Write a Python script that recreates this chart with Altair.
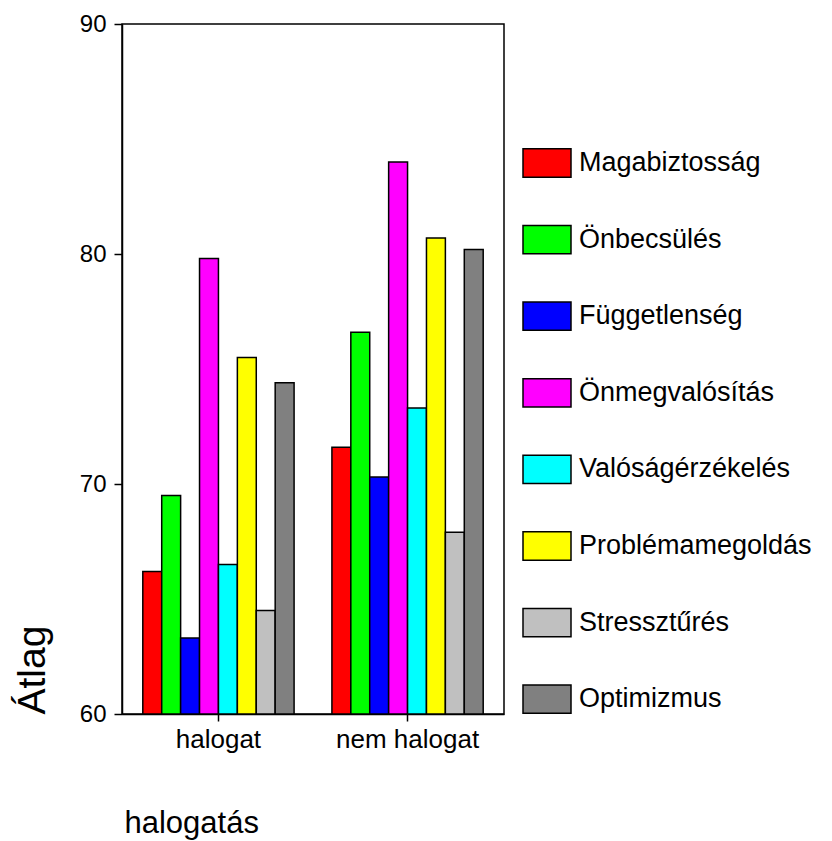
import altair as alt
import pandas as pd

groups = ["halogat", "nem halogat"]
scales = ["Magabiztosság", "Önbecsülés", "Függetlenség", "Önmegvalósítás",
          "Valóságérzékelés", "Problémamegoldás", "Stressztűrés", "Optimizmus"]
halogat_vals = [66.2, 69.5, 63.3, 79.8, 66.5, 75.5, 64.5, 74.4]
nem_halogat_vals = [71.6, 76.6, 70.3, 84.0, 73.3, 80.7, 67.9, 80.2]
colors = ["#FF0000", "#00FF00", "#0000FF", "#FF00FF",
          "#00FFFF", "#FFFF00", "#C0C0C0", "#808080"]
y_ticks = [60, 70, 80, 90]

rows = []
for g, vals in zip(groups, [halogat_vals, nem_halogat_vals]):
    for s, v in zip(scales, vals):
        rows.append({"csoport": g, "skala": s, "atlag": v})
df = pd.DataFrame(rows)

FONT = "Liberation Sans"
rect_path = "M-1,-0.59L1,-0.59L1,0.59L-1,0.59Z"

chart = alt.Chart(df).mark_bar(stroke="black", strokeWidth=1.5).encode(
    x=alt.X("csoport:N", sort=groups,
            scale=alt.Scale(paddingInner=0.2, paddingOuter=0.11),
            axis=alt.Axis(title="halogatás", labelAngle=0, labelFontSize=26,
                          labelPadding=5, tickSize=7, titleFontSize=31,
                          titleFontWeight="normal", titleAngle=0,
                          titleAlign="left", titleBaseline="middle",
                          titleX=2, titleY=109,
                          domainColor="black",
                          tickColor="black", labelColor="black",
                          titleColor="black", domainWidth=1.5, tickWidth=1.5)),
    xOffset=alt.XOffset("skala:N", sort=scales,
                        scale=alt.Scale(paddingInner=0, paddingOuter=0)),
    y=alt.Y("atlag:Q",
            scale=alt.Scale(domain=[60, 90], zero=False, nice=False),
            axis=alt.Axis(title="Átlag", values=y_ticks, grid=False,
                          labelFontSize=24, labelPadding=8, tickSize=8,
                          titleFontSize=39, titleFontWeight="normal",
                          titleAngle=-90, titleAlign="left",
                          titleBaseline="middle", titleX=-90, titleY=690,
                          domainColor="black", tickColor="black",
                          labelColor="black", titleColor="black",
                          domainWidth=1.5, tickWidth=1.5)),
    y2=alt.datum(60),
    fill=alt.Fill("skala:N", sort=scales,
                  scale=alt.Scale(domain=scales, range=colors),
                  legend=alt.Legend(title=None, orient="none", legendX=400,
                                    legendY=114, symbolType=rect_path,
                                    symbolSize=2304, symbolStrokeColor="black",
                                    symbolStrokeWidth=1.5, symbolOpacity=1,
                                    labelFontSize=27, labelFont=FONT,
                                    labelColor="black", labelOffset=7,
                                    rowPadding=33.6, labelLimit=400)),
).properties(
    width=382, height=690,
    autosize=alt.AutoSizeParams(type="none"),
    padding={"left": 114, "top": 16, "right": 318, "bottom": 126},
).configure(
    font=FONT,
).configure_view(
    stroke="black", strokeWidth=1.5,
)

chart.save("out.html", embed_options={"renderer": "svg", "actions": False})
